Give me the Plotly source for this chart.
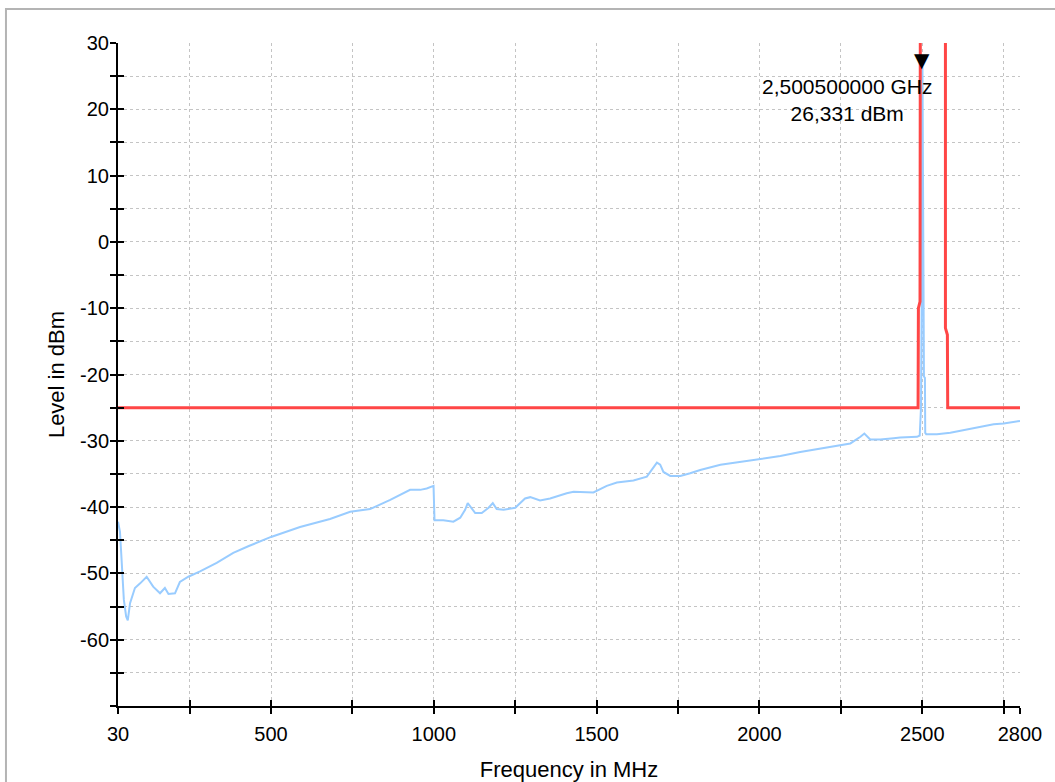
import plotly.graph_objects as go

# ---- data ----
freq_mhz = [30, 31, 36, 39, 44, 48, 55, 60, 67, 75, 82, 98, 118, 138, 159, 174, 185, 205, 220,
            246, 282, 333, 384, 430, 500, 589, 681, 743, 804, 866, 896, 927, 958, 978, 999,
            1002, 1029, 1060, 1081, 1096, 1104, 1114, 1127, 1147, 1168, 1181, 1193, 1214,
            1250, 1280, 1296, 1326, 1357, 1408, 1429, 1490, 1531, 1562, 1613, 1654, 1674,
            1685, 1695, 1705, 1726, 1757, 1787, 1818, 1880, 1972, 2064, 2125, 2217, 2279,
            2310, 2322, 2340, 2371, 2412, 2432, 2484, 2492, 2496, 2498, 2500.5, 2503, 2505,
            2508, 2509, 2512, 2545, 2586, 2627, 2668, 2719, 2750, 2800]
level_dbm = [-42.2, -42.4, -43.7, -46.2, -49.7, -54.0, -56.5, -57.1, -54.5, -53.3, -52.2, -51.5,
             -50.5, -52.0, -53.0, -52.2, -53.1, -53.0, -51.3, -50.5, -49.7, -48.4, -46.9,
             -45.9, -44.5, -43.0, -41.8, -40.7, -40.3, -38.9, -38.2, -37.4, -37.4, -37.2,
             -36.8, -42.0, -42.0, -42.2, -41.6, -40.4, -39.4, -40.1, -40.9, -40.9, -40.1,
             -39.4, -40.3, -40.4, -40.1, -38.7, -38.5, -39.0, -38.7, -37.9, -37.7, -37.8,
             -36.8, -36.3, -36.0, -35.4, -34.1, -33.3, -33.6, -34.7, -35.3, -35.3, -34.9,
             -34.4, -33.6, -32.9, -32.3, -31.7, -30.9, -30.4, -29.4, -28.9, -29.8, -29.8,
             -29.6, -29.5, -29.4, -29.2, -25.0, -10.0, 26.331, 5.0, -20.3, -20.5, -28.8,
             -29.0, -29.0, -28.8, -28.4, -28.0, -27.5, -27.4, -27.0]

limit_freq = [30, 2487, 2488, 2493, 2494, 2571, 2571, 2577, 2578, 2800]
limit_dbm = [-25, -25, -10, -9, 40, 40, -13, -14, -25, -25]

marker_freq = 2500.5
marker_level = 26.331
marker_label = "2,500500000 GHz<br>26,331 dBm"

x_tickvals = [30, 250, 500, 750, 1000, 1250, 1500, 1750, 2000, 2250, 2500, 2750, 2800]
x_ticktext = ["30", "", "500", "", "1000", "", "1500", "", "2000", "", "2500", "", "2800"]
y_tickvals = list(range(-70, 31, 5))
y_ticktext = ["" if (v % 10 != 0 or v == -70) else str(v) for v in y_tickvals]

FONT = "Liberation Sans, Arial, sans-serif"

fig = go.Figure()
fig.add_trace(go.Scatter(x=freq_mhz, y=level_dbm, mode="lines",
                         line=dict(color="#99ccff", width=2), hoverinfo="skip",
                         showlegend=False))
fig.add_trace(go.Scatter(x=limit_freq, y=limit_dbm, mode="lines",
                         line=dict(color="#ff4646", width=3), hoverinfo="skip",
                         showlegend=False))
# invisible trace for the overlay axes (inner tick halves)
fig.add_trace(go.Scatter(x=limit_freq, y=limit_dbm, mode="lines", xaxis="x2", yaxis="y2",
                         line=dict(width=0), opacity=0, hoverinfo="skip", showlegend=False))

axis_common = dict(showline=True, linecolor="black", linewidth=2, ticks="outside",
                   ticklen=6, tickwidth=2, tickcolor="black", zeroline=False,
                   showgrid=True, gridcolor="#c4c4c4", gridwidth=1, griddash="dot",
                   automargin=False,
                   tickfont=dict(family=FONT, size=20, color="black"))

fig.update_layout(
    width=1055, height=782,
    margin=dict(l=118, r=35, t=43, b=76),
    paper_bgcolor="white", plot_bgcolor="white",
    xaxis=dict(range=[30, 2800], tickmode="array", tickvals=x_tickvals,
               ticktext=x_ticktext, ticklabelstandoff=3,
               title=dict(text="Frequency in MHz", standoff=18,
                          font=dict(family=FONT, size=22, color="black")),
               **axis_common),
    yaxis=dict(range=[-70, 30], tickmode="array", tickvals=y_tickvals,
               ticktext=y_ticktext, ticklabelstandoff=-3,
               title=dict(text="Level in dBm", standoff=9,
                          font=dict(family=FONT, size=22, color="black")),
               **axis_common),
    xaxis2=dict(range=[30, 2800], overlaying="x", anchor="y2", tickmode="array",
                tickvals=x_tickvals, ticks="inside", ticklen=6, tickwidth=2,
                tickcolor="black", showticklabels=False, showgrid=False,
                showline=False, zeroline=False, automargin=False),
    yaxis2=dict(range=[-70, 30], overlaying="y", anchor="x2", side="left",
                tickmode="array", tickvals=y_tickvals, ticks="inside", ticklen=6,
                tickwidth=2, tickcolor="black", showticklabels=False, showgrid=False,
                showline=False, zeroline=False, automargin=False),
    showlegend=False,
)

# outer gray frame of the instrument window
fig.add_shape(type="rect", xref="paper", yref="paper", x0=-0.1242, x1=1.2,
              y0=-0.3, y1=1.0513, line=dict(color="#b4b4b4", width=2), layer="below")

# marker triangle and readout
fig.add_annotation(x=marker_freq, y=marker_level, text="▼", showarrow=False,
                   yanchor="bottom", yshift=-7,
                   font=dict(family="DejaVu Sans", size=20, color="black"))
fig.add_annotation(x=marker_freq, y=marker_level, text=marker_label, showarrow=False,
                   xanchor="center", yanchor="middle", xshift=-75, yshift=-33,
                   align="center", font=dict(family=FONT, size=21, color="black"))

fig.write_html("out.html", config={"displayModeBar": False},
               post_script="document.body.style.margin='0';")
